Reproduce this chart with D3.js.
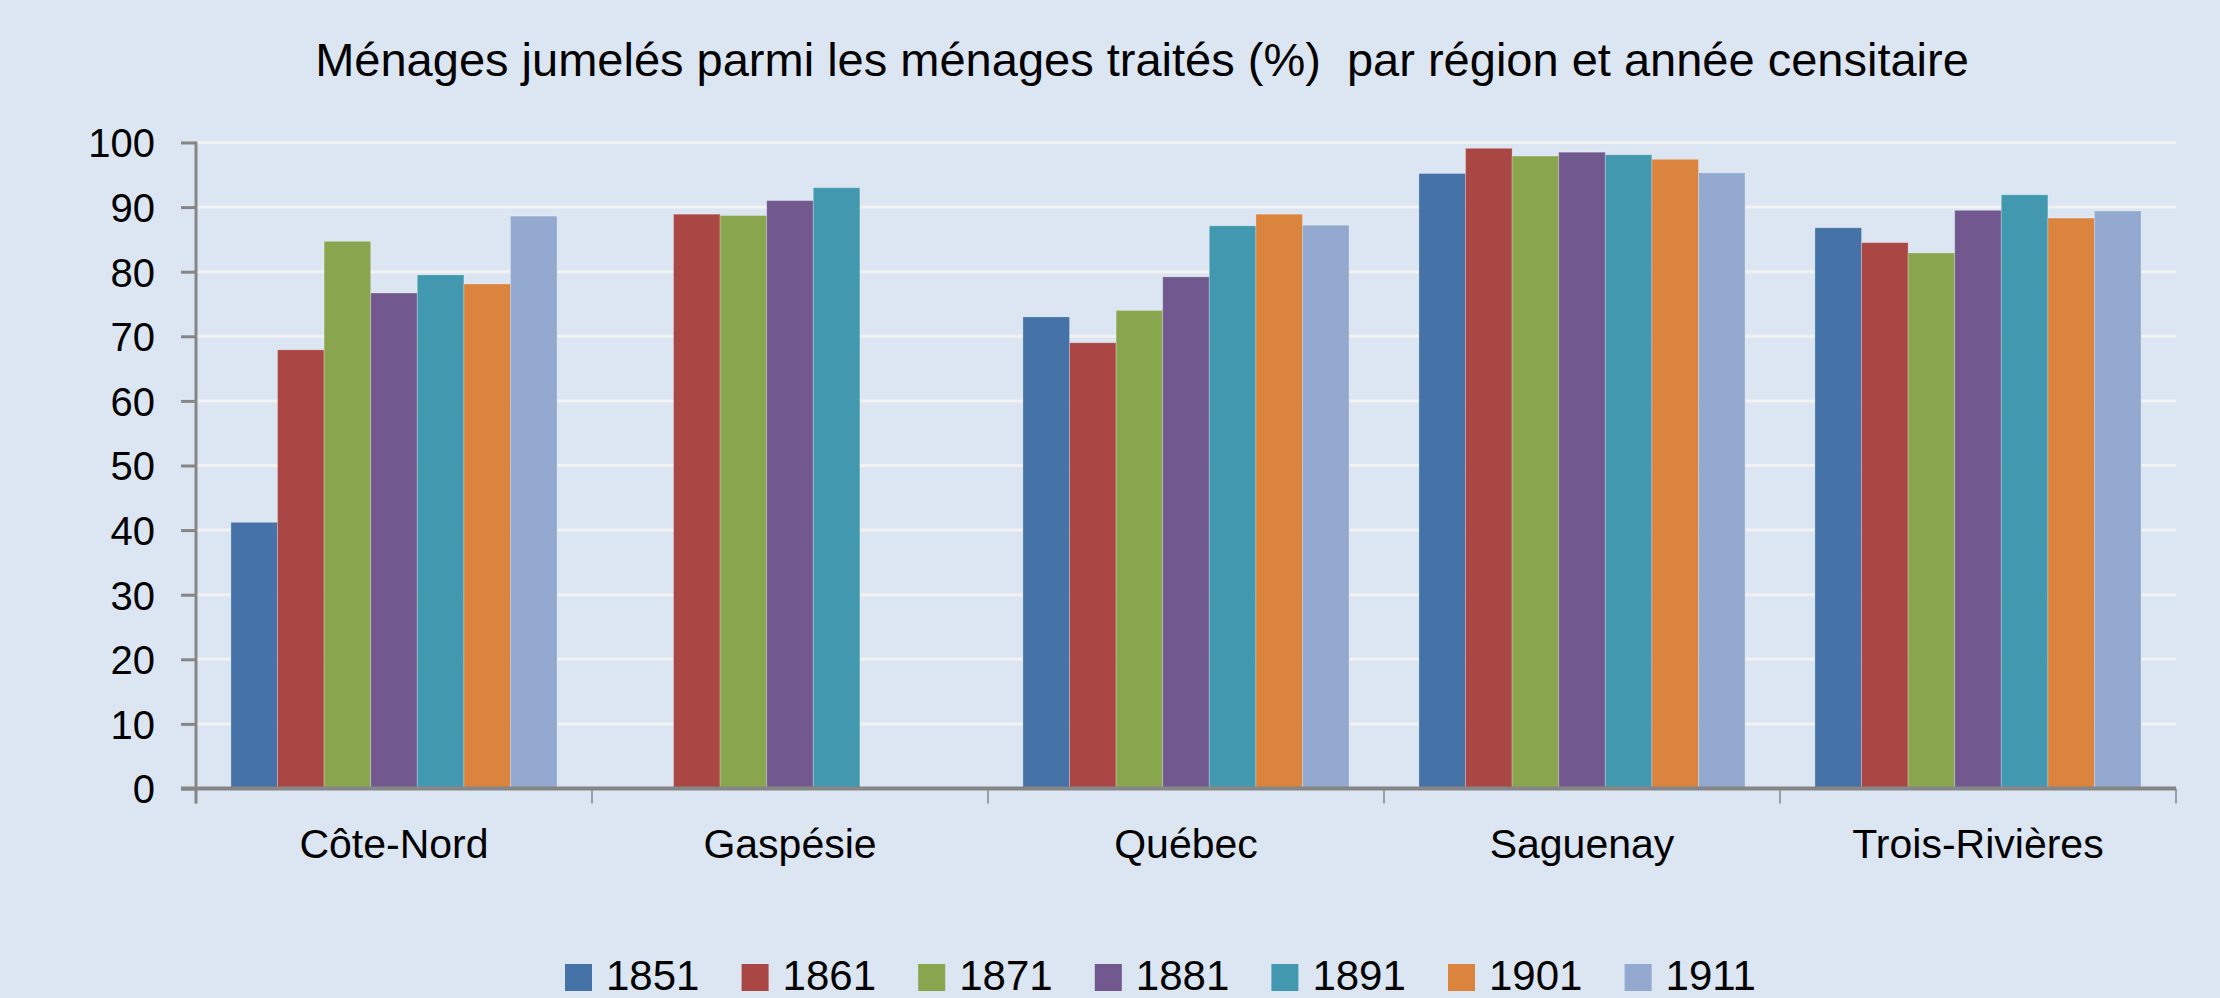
<!DOCTYPE html>
<html>
<head>
<meta charset="utf-8">
<title>Ménages jumelés</title>
<style>
body { margin: 0; background: #dce6f2; }
svg text { font-family: "Liberation Sans", Arial, sans-serif; fill: #000; }
</style>
</head>
<body>
<script src="https://cdn.jsdelivr.net/npm/d3@7/dist/d3.min.js"></script>
<script>
// donnees
var regions = ["Côte-Nord", "Gaspésie", "Québec", "Saguenay", "Trois-Rivières"];
var annees = ["1851", "1861", "1871", "1881", "1891", "1901", "1911"];
var couleurs = ["#4572a7", "#aa4643", "#89a54e", "#71588f", "#4198af", "#db843d", "#93a9cf"];
var yTicks = [0, 10, 20, 30, 40, 50, 60, 70, 80, 90, 100];

// une serie par annee (null = pas de donnee)
var v1851 = [41.2, null, 73.0, 95.2, 86.8];
var v1861 = [67.9, 88.9, 69.0, 99.1, 84.5];
var v1871 = [84.7, 88.7, 74.0, 97.9, 82.9];
var v1881 = [76.7, 91.0, 79.2, 98.5, 89.5];
var v1891 = [79.5, 93.0, 87.1, 98.1, 91.9];
var v1901 = [78.1, null, 88.9, 97.4, 88.3];
var v1911 = [88.6, null, 87.2, 95.3, 89.4];
var series = [v1851, v1861, v1871, v1881, v1891, v1901, v1911];

var width = 2220, height = 998;
var gauche = 196, droite = 2176, haut = 142.5, bas = 788.5;

var svg = d3.select("body").append("svg")
  .attr("width", width)
  .attr("height", height);

svg.append("rect").attr("width", width).attr("height", height).attr("fill", "#dce6f2");

var x0 = d3.scaleBand().domain(regions).range([gauche, droite]).paddingInner(0).paddingOuter(0);
var x1 = d3.scaleBand().domain(annees).range([0, x0.bandwidth()]).paddingInner(0).paddingOuter(0.75);
var y = d3.scaleLinear().domain([0, 100]).range([bas, haut]);

// titre (double espace garde)
svg.append("text")
  .attr("x", 1142).attr("y", 76)
  .attr("text-anchor", "middle")
  .style("font-size", "47px")
  .style("white-space", "pre")
  .text("Ménages jumelés parmi les ménages traités (%)  par région et année censitaire");

// quadrillage
svg.append("g").selectAll("line")
  .data(yTicks.filter(function(d) { return d > 0; }))
  .enter().append("line")
  .attr("x1", gauche).attr("x2", droite)
  .attr("y1", function(d) { return y(d); })
  .attr("y2", function(d) { return y(d); })
  .attr("stroke", "#f2f2f2").attr("stroke-width", 3);

// barres
var donnees = [];
series.forEach(function(s, i) {
  s.forEach(function(v, j) {
    if (v !== null) donnees.push({ region: regions[j], annee: annees[i], valeur: v, couleur: couleurs[i] });
  });
});

svg.append("g").selectAll("rect")
  .data(donnees)
  .enter().append("rect")
  .attr("x", function(d) { return x0(d.region) + x1(d.annee); })
  .attr("y", function(d) { return y(d.valeur); })
  .attr("width", x1.bandwidth())
  .attr("height", function(d) { return y(0) - y(d.valeur); })
  .attr("fill", function(d) { return d.couleur; })
  .attr("stroke", "rgba(255,255,255,0.25)")
  .attr("stroke-width", 1);

// axe vertical
var axeY = svg.append("g")
  .attr("transform", "translate(" + gauche + ",0)")
  .call(d3.axisLeft(y).tickValues(yTicks).tickSize(15).tickSizeOuter(0).tickPadding(26));
axeY.select(".domain").remove();
axeY.selectAll(".tick line").attr("stroke", "#868686").attr("stroke-width", 3);
axeY.selectAll(".tick text").style("font-size", "40px").attr("dy", "0.36em");
axeY.append("line")
  .attr("x1", 0).attr("x2", 0)
  .attr("y1", haut - 1).attr("y2", bas + 15)
  .attr("stroke", "#868686").attr("stroke-width", 3);

// axe horizontal
var axeX = svg.append("g")
  .attr("transform", "translate(0," + bas + ")")
  .call(d3.axisBottom(x0).tickSize(0).tickPadding(40));
axeX.select(".domain").remove();
axeX.selectAll(".tick text").style("font-size", "41px");
axeX.append("line")
  .attr("x1", gauche - 15).attr("x2", droite)
  .attr("stroke", "#868686").attr("stroke-width", 4);
axeX.selectAll(".sep")
  .data(regions.concat(["fin"]))
  .enter().append("line")
  .attr("class", "sep")
  .attr("x1", function(d, i) { return i < regions.length ? x0(d) : droite; })
  .attr("x2", function(d, i) { return i < regions.length ? x0(d) : droite; })
  .attr("y1", 0).attr("y2", 15)
  .attr("stroke", "#868686").attr("stroke-width", 1.5);

// legende
var legende = svg.append("g").attr("transform", "translate(565,0)");
var item = legende.selectAll("g")
  .data(annees)
  .enter().append("g")
  .attr("transform", function(d, i) { return "translate(" + (i * 176.6) + ",0)"; });
item.append("rect")
  .attr("x", 0).attr("y", 964)
  .attr("width", 27).attr("height", 27)
  .attr("fill", function(d, i) { return couleurs[i]; });
item.append("text")
  .attr("x", 41).attr("y", 990)
  .style("font-size", "42px")
  .text(function(d) { return d; });
</script>
</body>
</html>
